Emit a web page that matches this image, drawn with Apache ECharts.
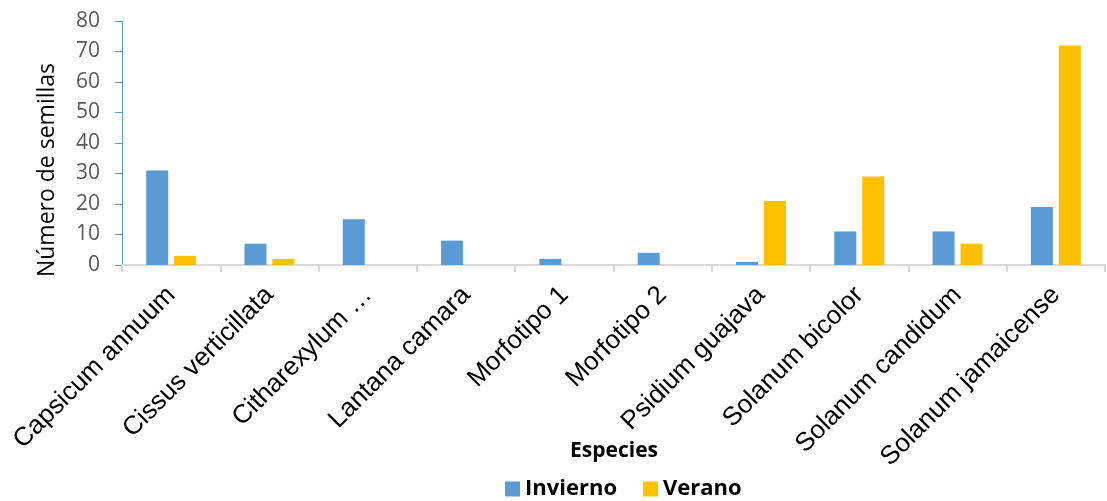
<!DOCTYPE html>
<html>
<head>
<meta charset="utf-8">
<script src="https://cdn.jsdelivr.net/npm/echarts@6/dist/echarts.min.js"></script>
<style>
  html, body { margin: 0; padding: 0; background: #fff; }
  #chart { width: 1107px; height: 501px; }
</style>
</head>
<body>
<div id="chart"></div>
<script>
// especies (eje x)
const especies = ['Capsicum annuum', 'Cissus verticillata', 'Citharexylum …', 'Lantana camara',
  'Morfotipo 1', 'Morfotipo 2', 'Psidium guajava', 'Solanum bicolor', 'Solanum candidum', 'Solanum jamaicense']
// número de semillas por temporada
const invierno = [31, 7, 15, 8, 2, 4, 1, 11, 11, 19]
const verano = [3, 2, 0, 0, 0, 0, 21, 29, 7, 72]
const yTicks = [0, 10, 20, 30, 40, 50, 60, 70, 80]

const chart = echarts.init(document.getElementById('chart'))

chart.setOption({
  animation: false,
  grid: { left: 122, right: 2, top: 21, bottom: 236, containLabel: false },
  legend: {
    top: 473,
    left: 500,
    itemWidth: 15,
    itemHeight: 15,
    itemGap: 26,
    icon: 'rect',
    textStyle: { fontFamily: 'Open Sans', fontWeight: 'bold', fontSize: 22, color: '#000' },
    data: ['Invierno', 'Verano']
  },
  // titulos de los ejes
  graphic: [{
    type: 'text',
    x: 47,
    y: 170,
    rotation: Math.PI / 2,
    style: {
      text: 'Número de semillas',
      fontFamily: 'Open Sans',
      fontSize: 23,
      fill: '#000',
      align: 'center',
      verticalAlign: 'middle'
    }
  }, {
    type: 'text',
    x: 614,
    y: 451,
    style: {
      text: 'Especies',
      fontFamily: 'Open Sans',
      fontWeight: 'bold',
      fontSize: 21,
      fill: '#000',
      align: 'center',
      verticalAlign: 'middle'
    }
  }],
  xAxis: {
    type: 'category',
    data: especies,
    axisLine: { lineStyle: { color: '#d9d9d9', width: 2 } },
    axisTick: { show: true, length: 7, lineStyle: { color: '#d9d9d9', width: 2 } },
    axisLabel: {
      rotate: 45,
      interval: 0,
      margin: 26,
      fontFamily: 'Liberation Sans',
      fontSize: 26,
      color: '#000'
    }
  },
  yAxis: {
    type: 'value',
    min: 0,
    max: 80,
    interval: 10,
    splitLine: { show: false },
    axisLine: { show: true, lineStyle: { color: '#5b9bd5', width: 1 } },
    axisTick: { show: true, length: 7, inside: false, lineStyle: { color: '#5b9bd5' } },
    axisLabel: {
      margin: 22,
      fontFamily: 'Open Sans',
      fontSize: 21,
      color: '#595959',
      formatter: v => yTicks.includes(v) ? String(v) : ''
    }
  },
  series: [
    {
      name: 'Invierno',
      type: 'bar',
      data: invierno,
      barWidth: 22,
      barGap: '27%',
      itemStyle: { color: '#5b9bd5' }
    },
    {
      name: 'Verano',
      type: 'bar',
      data: verano,
      barWidth: 22,
      itemStyle: { color: '#ffc000' }
    }
  ]
})
</script>
</body>
</html>
